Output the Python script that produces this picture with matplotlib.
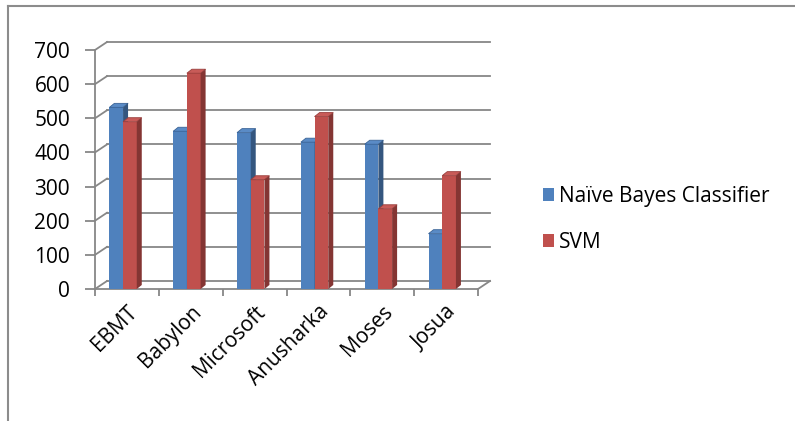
import matplotlib
matplotlib.use("Agg")
import matplotlib.pyplot as plt
from matplotlib.patches import Polygon, Rectangle
from matplotlib.lines import Line2D
from matplotlib.transforms import offset_copy

tools = ["EBMT", "Babylon", "Microsoft", "Anusharka", "Moses", "Josua"]
naive_bayes = [532, 462, 458, 430, 424, 162]
svm = [490, 632, 320, 505, 235, 332]
series = ["Naïve Bayes Classifier", "SVM"]

front_cols = ["#4F81BD", "#C0504D"]
side_cols = ["#34567F", "#843533"]
top_cols = ["#5A8BC6", "#C85B58"]
edge_cols = ["#3A6396", "#9A3E3C"]
grid_col = "#878787"

plt.rcParams["font.family"] = ["Open Sans", "DejaVu Sans"]

W, H = 795, 421
fig = plt.figure(figsize=(W / 100, H / 100), dpi=100)

# front plot box in pixels: x 95..478, y 289 (zero) .. 50 (700)
ax = fig.add_axes([95 / W, (H - 289) / H, 383 / W, 239 / H])
n = len(tools)
ax.set_xlim(0, n)
ax.set_ylim(0, 700)

px_x = 383 / n      # pixels per category
px_y = 239 / 700    # pixels per unit
DX, DY = 12 / px_x, 8 / px_y        # wall depth
bdx, bdy = 5 / px_x, 4 / px_y       # bar depth
bw = 13.7 / px_x
x0 = 0.225

# back wall gridlines + left wall diagonals
back = offset_copy(ax.transData, fig=fig, x=12, y=8, units="dots")
for v in range(0, 701, 100):
    ax.plot([0, n], [v, v], color=grid_col, lw=1.3, transform=back, clip_on=False)
    ax.plot([0, DX], [v, v + DY], color=grid_col, lw=1.3, clip_on=False)
# floor right edge
ax.plot([n, n + DX], [0, DY], color=grid_col, lw=1.3, clip_on=False)

# bars
for i in range(n):
    for k, vals in enumerate([naive_bayes, svm]):
        v = vals[i]
        xl = i + x0 + k * bw
        xr = xl + bw
        ax.add_patch(Rectangle((xl, 0), bw, v, facecolor=front_cols[k],
                               edgecolor="none", clip_on=False, zorder=3))
        ax.add_patch(Polygon([(xl, v), (xr, v), (xr + bdx, v + bdy), (xl + bdx, v + bdy)],
                             facecolor=top_cols[k], edgecolor=edge_cols[k], lw=0.6,
                             clip_on=False, zorder=3))
        ax.add_patch(Polygon([(xr, 0), (xr + bdx, bdy), (xr + bdx, v + bdy), (xr, v)],
                             facecolor=side_cols[k], edgecolor="none",
                             clip_on=False, zorder=3))

for s in ["top", "right"]:
    ax.spines[s].set_visible(False)
for s in ["left", "bottom"]:
    ax.spines[s].set_color(grid_col)
    ax.spines[s].set_linewidth(1.3)
ax.patch.set_visible(False)

ax.set_yticks(range(0, 701, 100))
ax.tick_params(axis="y", length=7, width=1.3, color=grid_col, labelsize=15, pad=11,
               labelcolor="black")
ax.set_xticks([i + 0.5 for i in range(n)])
ax.set_xticklabels(tools, rotation=45, ha="right", va="top", rotation_mode="anchor")
ax.set_xticks(range(n + 1), minor=True)
ax.tick_params(axis="x", which="major", length=0, labelsize=15, pad=9)
ax.tick_params(axis="x", which="minor", length=5, width=1.3, color=grid_col)

handles = [Rectangle((0, 0), 1, 1, facecolor=c, edgecolor="none") for c in front_cols]
fig.legend(handles, series, loc="upper left", bbox_to_anchor=(524 / W, 1 - 167 / H),
           frameon=False, fontsize=15, handlelength=0.55, handleheight=0.55,
           handletextpad=0.25, labelspacing=1.2)

# chart border
fig.add_artist(Line2D([8 / W, 1], [1 - 6 / H, 1 - 6 / H], color="#8C8C8C", lw=1.5))
fig.add_artist(Line2D([8 / W, 8 / W], [0, 1 - 6 / H], color="#8C8C8C", lw=1.5))

fig.savefig("out.png", dpi=100)
